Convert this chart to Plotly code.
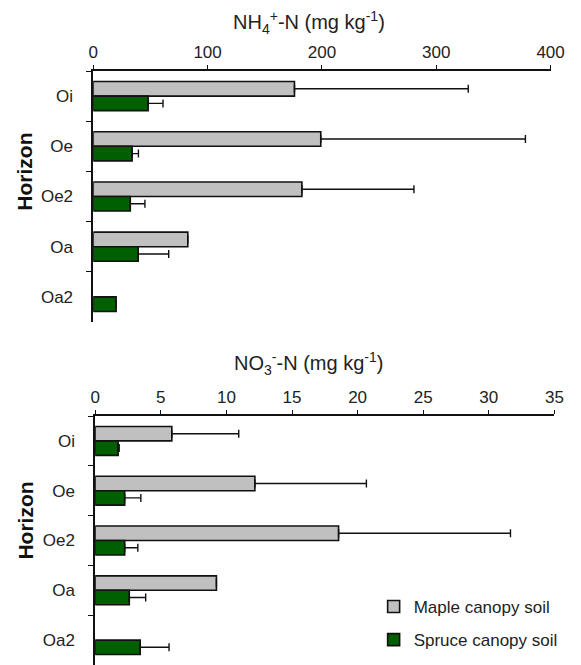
import plotly.graph_objects as go

horizons = ["Oi", "Oe", "Oe2", "Oa", "Oa2"]

nh4_maple = [176, 199, 182.5, 82.7, None]
nh4_maple_err = [152, 179, 98, None, None]
nh4_spruce = [48, 34, 32.4, 39.3, 20]
nh4_spruce_err = [13, 5.5, 12.8, 26.7, None]

no3_maple = [5.84, 12.17, 18.55, 9.24, None]
no3_maple_err = [5.1, 8.5, 13.1, None, None]
no3_spruce = [1.75, 2.25, 2.25, 2.6, 3.43]
no3_spruce_err = [0.08, 1.23, 1.0, 1.25, 2.2]

nh4_ticks = [0, 100, 200, 300, 400]
no3_ticks = [0, 5, 10, 15, 20, 25, 30, 35]

MAPLE = "#c0c0c0"
SPRUCE = "#006000"
FONT = "Arial, Liberation Sans, sans-serif"
# the page body adds an 8px offset, so the figure is sized/positioned to compensate
OFF = 8
W, H = 581 - OFF, 665 - OFF


def px(x):
    return (x - OFF) / W


def py(y):
    return 1 - (y - OFF) / H


def errs(vals):
    return dict(type="data", array=vals, arrayminus=[0 if v is not None else None for v in vals],
                symmetric=False, color="#111111", thickness=1.4, width=4)


fig = go.Figure()
fig.add_trace(go.Bar(x=nh4_maple, y=horizons, orientation="h", name="Maple canopy soil",
                     marker=dict(color=MAPLE, line=dict(color="#111111", width=1.6)),
                     error_x=errs(nh4_maple_err), xaxis="x", yaxis="y", showlegend=False,
                     legendgroup="m"))
fig.add_trace(go.Bar(x=nh4_spruce, y=horizons, orientation="h", name="Spruce canopy soil",
                     marker=dict(color=SPRUCE, line=dict(color="#111111", width=1.6)),
                     error_x=errs(nh4_spruce_err), xaxis="x", yaxis="y", showlegend=False,
                     legendgroup="s"))
fig.add_trace(go.Bar(x=no3_maple, y=horizons, orientation="h", name="Maple canopy soil",
                     marker=dict(color=MAPLE, line=dict(color="#111111", width=1.6)),
                     error_x=errs(no3_maple_err), xaxis="x2", yaxis="y2", showlegend=True,
                     legendgroup="m"))
fig.add_trace(go.Bar(x=no3_spruce, y=horizons, orientation="h", name="Spruce canopy soil",
                     marker=dict(color=SPRUCE, line=dict(color="#111111", width=1.6)),
                     error_x=errs(no3_spruce_err), xaxis="x2", yaxis="y2", showlegend=True,
                     legendgroup="s"))

xcommon = dict(side="top", showline=True, linecolor="#111111", linewidth=1.6,
               ticks="outside", ticklen=4, tickwidth=1.4, tickcolor="#111111",
               showgrid=False, zeroline=False,
               tickfont=dict(family=FONT, size=17, color="#222222"))
ycommon = dict(type="category", range=[4.5, -0.5], showline=True, linecolor="#111111",
               linewidth=1.6, ticks="outside", ticklen=5, tickwidth=1.4, tickcolor="#111111",
               tickson="boundaries", showgrid=False, zeroline=False, ticklabelstandoff=15,
               tickfont=dict(family=FONT, size=17, color="#222222"))

fig.update_layout(
    width=W, height=H,
    margin=dict(l=0, r=0, t=0, b=0),
    paper_bgcolor="white", plot_bgcolor="white",
    barmode="group", bargap=0.42, bargroupgap=0,
    xaxis=dict(xcommon, domain=[px(91), px(564)], range=[0, 400], tickvals=nh4_ticks,
               anchor="y"),
    yaxis=dict(ycommon, domain=[py(322), py(71)], anchor="x"),
    xaxis2=dict(xcommon, domain=[px(93), px(568)], range=[0, 35], tickvals=no3_ticks,
                anchor="y2"),
    yaxis2=dict(ycommon, domain=[0, py(416)], anchor="x2"),
    legend=dict(x=px(381), y=py(589), xanchor="left", yanchor="top",
                font=dict(family=FONT, size=17, color="#222222"),
                tracegroupgap=8, bgcolor="rgba(0,0,0,0)"),
    annotations=[
        dict(text="NH<sub>4</sub><sup>+</sup>-N (mg kg<sup>-1</sup>)", x=px(314), y=py(22),
             xref="paper", yref="paper", showarrow=False, xanchor="center", yanchor="middle",
             font=dict(family=FONT, size=20, color="#222222")),
        dict(text="NO<sub>3</sub><sup>-</sup>-N (mg kg<sup>-1</sup>)", x=px(314), y=py(363),
             xref="paper", yref="paper", showarrow=False, xanchor="center", yanchor="middle",
             font=dict(family=FONT, size=20, color="#222222")),
        dict(text="<b>Horizon</b>", x=px(19), y=py(172), xref="paper", yref="paper",
             showarrow=False, textangle=-90, xanchor="center", yanchor="middle",
             font=dict(family=FONT, size=21, color="#111111")),
        dict(text="<b>Horizon</b>", x=px(20), y=py(521), xref="paper", yref="paper",
             showarrow=False, textangle=-90, xanchor="center", yanchor="middle",
             font=dict(family=FONT, size=21, color="#111111")),
    ],
)

fig.write_html("out.html")
